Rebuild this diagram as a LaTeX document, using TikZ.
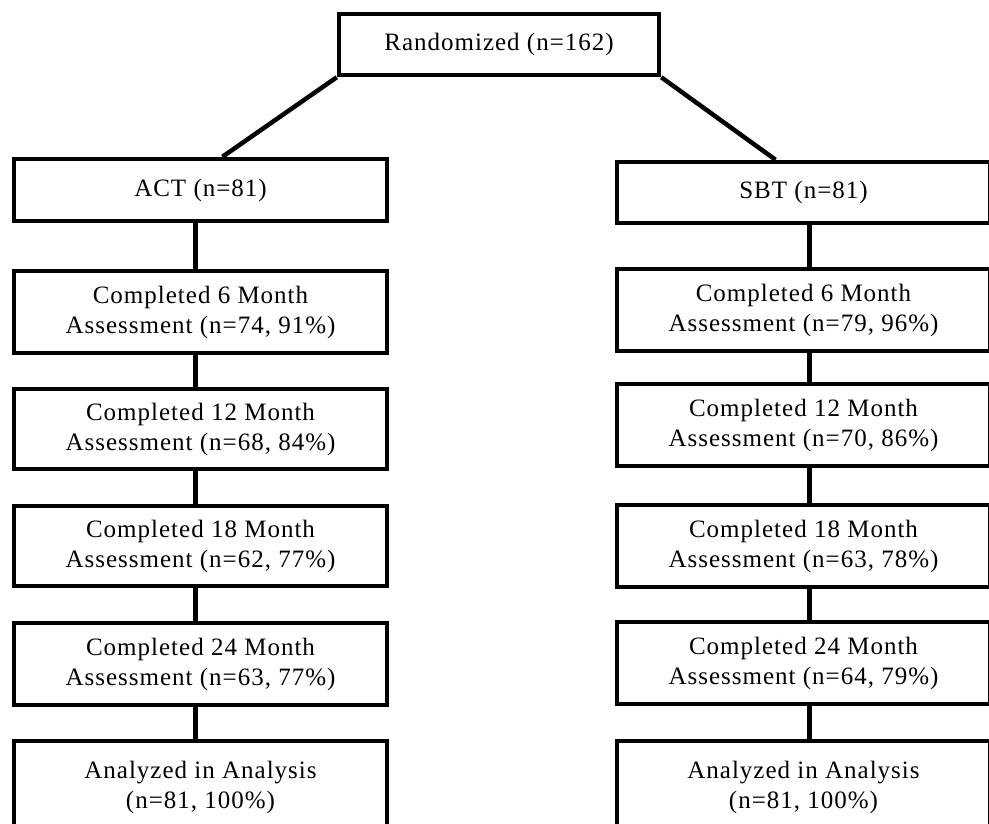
\documentclass[tikz,border=0pt]{standalone}
\usepackage{fontspec}
\setmainfont{Liberation Serif}[LetterSpace=4]
\begin{document}
\begin{tikzpicture}[x=1pt,y=-1pt,
    box/.style={draw, line width=4.5pt, minimum width=373pt, minimum height=82pt, align=center, inner sep=0pt, font=\fontsize{25}{30}\selectfont},
    link/.style={line width=4.5pt}]
    \useasboundingbox (0,0) rectangle (989,823);
    \clip (0,0) rectangle (989,823);
    \node[box, minimum width=320pt, minimum height=61pt] (rand) at (499,44.5) {Randomized (n=162)};
    % ACT arm
    \node[box, minimum height=62pt] (act) at (200.5,190) {ACT (n=81)};
    \node[box] (a6) at (200.5,312) {Completed 6 Month\\Assessment (n=74, 91\%)};
    \node[box, minimum height=80pt] (a12) at (200.5,429) {Completed 12 Month\\Assessment (n=68, 84\%)};
    \node[box, minimum height=80pt] (a18) at (200.5,546) {Completed 18 Month\\Assessment (n=62, 77\%)};
    \node[box] (a24) at (200.5,664) {Completed 24 Month\\Assessment (n=63, 77\%)};
    \node[box, minimum height=92pt] (aan) at (200.5,787) {Analyzed in Analysis\\(n=81, 100\%)};
    % SBT arm
    \node[box, minimum height=61pt] (sbt) at (803.5,192.5) {SBT (n=81)};
    \node[box] (s6) at (803.5,310) {Completed 6 Month\\Assessment (n=79, 96\%)};
    \node[box] (s12) at (803.5,425) {Completed 12 Month\\Assessment (n=70, 86\%)};
    \node[box] (s18) at (803.5,546) {Completed 18 Month\\Assessment (n=63, 78\%)};
    \node[box] (s24) at (803.5,663) {Completed 24 Month\\Assessment (n=64, 79\%)};
    \node[box, minimum height=92pt] (san) at (803.5,787) {Analyzed in Analysis\\(n=81, 100\%)};
    % connectors
    \draw[link] (rand.south west) -- ([xshift=22pt]act.north);
    \draw[link] (rand.south east) -- ([xshift=-28pt]sbt.north);
    \draw[link] ([xshift=-5pt]act.south) -- ([xshift=-5pt]a6.north);
    \draw[link] ([xshift=-5pt]a6.south) -- ([xshift=-5pt]a12.north);
    \draw[link] ([xshift=-5pt]a12.south) -- ([xshift=-5pt]a18.north);
    \draw[link] ([xshift=-5pt]a18.south) -- ([xshift=-5pt]a24.north);
    \draw[link] ([xshift=-5pt]a24.south) -- ([xshift=-5pt]aan.north);
    \draw[link] ([xshift=6pt]sbt.south) -- ([xshift=6pt]s6.north);
    \draw[link] ([xshift=6pt]s6.south) -- ([xshift=6pt]s12.north);
    \draw[link] ([xshift=6pt]s12.south) -- ([xshift=6pt]s18.north);
    \draw[link] ([xshift=6pt]s18.south) -- ([xshift=6pt]s24.north);
    \draw[link] ([xshift=6pt]s24.south) -- ([xshift=6pt]san.north);
\end{tikzpicture}
\end{document}
